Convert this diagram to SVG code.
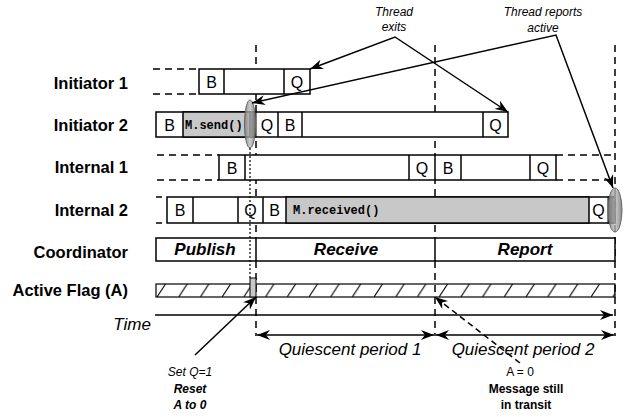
<svg xmlns="http://www.w3.org/2000/svg" width="628" height="417" viewBox="0 0 628 417">
<style>
.box{fill:#fff;stroke:#000;stroke-width:1.5}
.gray{fill:#c8c8c8;stroke:#000;stroke-width:1.5}
.dark{fill:#5a5a5a;stroke:#000;stroke-width:1}
.dash{stroke:#000;stroke-width:1.5;stroke-dasharray:7,5;fill:none}
.dot{stroke:#000;stroke-width:1.2;stroke-dasharray:2,2;fill:none}
.lbl{font-family:"Liberation Sans",Arial,sans-serif;font-weight:bold;font-size:16.5px;text-anchor:end}
.cell{font-family:"Liberation Sans",Arial,sans-serif;font-size:16px;text-anchor:middle}
.code{font-family:"Liberation Mono","Courier New",monospace;font-weight:bold;font-size:12px}
.phase{font-family:"Liberation Sans",Arial,sans-serif;font-weight:bold;font-style:italic;font-size:17px;text-anchor:middle}
.ann{font-family:"Liberation Sans",Arial,sans-serif;font-size:12px;text-anchor:middle}
.it{font-style:italic}
.bd{font-weight:bold}
.big{font-family:"Liberation Sans",Arial,sans-serif;font-style:italic;font-size:17px}
.conn{stroke:#000;stroke-width:1.5;fill:none}
.ell{fill:url(#eg);stroke:#666;stroke-width:1}
</style>
<defs>
<marker id="ah" markerUnits="userSpaceOnUse" markerWidth="13" markerHeight="10" viewBox="0 0 13 10" refX="13" refY="5" orient="auto-start-reverse">
<path d="M0,0 L13,5 L0,10 L4,5 z" fill="#000"/>
</marker>
<pattern id="hatch" patternUnits="userSpaceOnUse" x="157" y="284" width="21.7" height="13">
<line x1="0" y1="13" x2="8.5" y2="0" stroke="#000" stroke-width="1.1"/>
</pattern>
<linearGradient id="eg" x1="0" y1="0" x2="1" y2="0">
<stop offset="0" stop-color="#777" stop-opacity="0.85"/>
<stop offset="0.5" stop-color="#bbb" stop-opacity="0.75"/>
<stop offset="1" stop-color="#777" stop-opacity="0.85"/>
</linearGradient>
</defs>
<rect width="628" height="417" fill="#fff"/>

<g id="labels">
<text class="lbl" x="128" y="89">Initiator 1</text>
<text class="lbl" x="128" y="131">Initiator 2</text>
<text class="lbl" x="128" y="173">Internal 1</text>
<text class="lbl" x="128" y="216">Internal 2</text>
<text class="lbl" x="128" y="258">Coordinator</text>
<text class="lbl" x="128" y="296">Active Flag (A)</text>
<text class="big" x="151" y="330" text-anchor="end">Time</text>
</g>

<g id="phase-lines">
<line class="dash" x1="256" y1="45" x2="256" y2="336"/>
<line class="dash" x1="435" y1="45" x2="435" y2="336"/>
<line class="dash" x1="615" y1="45" x2="615" y2="336"/>
</g>

<g id="initiator1">
<line class="dash" x1="153" y1="69" x2="199" y2="69"/>
<line class="dash" x1="153" y1="94" x2="199" y2="94"/>
<rect class="box" x="199" y="69" width="111" height="25"/>
<line class="conn" x1="224" y1="69" x2="224" y2="94"/>
<line class="conn" x1="284" y1="69" x2="284" y2="94"/>
<text class="cell" x="211.5" y="87.5">B</text>
<text class="cell" x="297" y="87.5">Q</text>
</g>

<g id="initiator2">
<rect class="box" x="156" y="112" width="352" height="25"/>
<rect class="gray" x="183" y="112" width="67" height="25"/>
<rect class="dark" x="250" y="112" width="6" height="25"/>
<line class="conn" x1="278" y1="112" x2="278" y2="137"/>
<line class="conn" x1="302" y1="112" x2="302" y2="137"/>
<line class="conn" x1="483" y1="112" x2="483" y2="137"/>
<text class="cell" x="169.5" y="130.5">B</text>
<text class="code" x="185" y="129">M.send()</text>
<text class="cell" x="267" y="130.5">Q</text>
<text class="cell" x="290" y="130.5">B</text>
<text class="cell" x="495.5" y="130.5">Q</text>
<ellipse class="ell" cx="250" cy="124" rx="5.5" ry="24"/>
</g>

<g id="internal1">
<line class="dash" x1="157" y1="155" x2="219" y2="155"/>
<line class="dash" x1="157" y1="180" x2="219" y2="180"/>
<rect class="box" x="219" y="155" width="337" height="25"/>
<line class="conn" x1="245" y1="155" x2="245" y2="180"/>
<line class="conn" x1="409" y1="155" x2="409" y2="180"/>
<line class="conn" x1="435" y1="155" x2="435" y2="180"/>
<line class="conn" x1="461" y1="155" x2="461" y2="180"/>
<line class="conn" x1="530" y1="155" x2="530" y2="180"/>
<line class="dash" x1="556" y1="155" x2="615" y2="155"/>
<line class="dash" x1="556" y1="180" x2="615" y2="180"/>
<text class="cell" x="232" y="173.5">B</text>
<text class="cell" x="422" y="173.5">Q</text>
<text class="cell" x="448" y="173.5">B</text>
<text class="cell" x="543" y="173.5">Q</text>
</g>

<g id="internal2">
<line class="conn" x1="156" y1="197" x2="162" y2="197"/>
<line class="conn" x1="156" y1="223" x2="162" y2="223"/>
<rect class="box" x="167" y="197" width="448" height="26"/>
<line class="conn" x1="193" y1="197" x2="193" y2="223"/>
<line class="conn" x1="238" y1="197" x2="238" y2="223"/>
<line class="conn" x1="263" y1="197" x2="263" y2="223"/>
<rect class="gray" x="286" y="197" width="303" height="26"/>
<rect class="dark" x="608" y="197" width="7" height="26"/>
<text class="cell" x="180" y="216">B</text>
<text class="cell" x="250.5" y="216">Q</text>
<text class="cell" x="274.5" y="216">B</text>
<text class="code" x="293" y="214">M.received()</text>
<text class="cell" x="598.5" y="216">Q</text>
<ellipse class="ell" cx="615" cy="210" rx="7" ry="22"/>
</g>

<g id="coordinator">
<rect class="box" x="156" y="238" width="459" height="23"/>
<line class="conn" x1="256" y1="238" x2="256" y2="261"/>
<line class="conn" x1="435" y1="238" x2="435" y2="261"/>
<text class="phase" x="205" y="255">Publish</text>
<text class="phase" x="346" y="255">Receive</text>
<text class="phase" x="525" y="255">Report</text>
</g>

<g id="active-flag">
<rect x="156" y="284" width="459" height="13" fill="url(#hatch)" stroke="#000" stroke-width="1.2"/>
<rect x="250" y="278" width="6" height="19" fill="#c8c8c8" stroke="#000" stroke-width="1"/>
</g>

<g id="connectors">
<line class="dot" x1="250" y1="148" x2="250" y2="278"/>
<line class="conn" x1="155" y1="315" x2="613" y2="315" marker-end="url(#ah)"/>
<line class="conn" x1="257" y1="335" x2="434" y2="335" marker-start="url(#ah)" marker-end="url(#ah)"/>
<line class="conn" x1="436" y1="335" x2="614" y2="335" marker-start="url(#ah)" marker-end="url(#ah)"/>
<polyline class="conn" points="310,69 395,37 508,112" marker-start="url(#ah)" marker-end="url(#ah)"/>
<polyline class="conn" points="252,103 556,35 613,188" marker-start="url(#ah)" marker-end="url(#ah)"/>
<line class="conn" x1="195" y1="355" x2="256" y2="297" marker-end="url(#ah)"/>
<line class="conn" x1="520" y1="363" x2="435" y2="297" stroke-dasharray="6,4" marker-end="url(#ah)"/>
</g>

<g id="annotations">
<text class="ann it" x="394" y="16">Thread</text>
<text class="ann it" x="394" y="31">exits</text>
<text class="ann it" x="543" y="16">Thread reports</text>
<text class="ann it" x="543" y="32">active</text>
<text class="big" x="350" y="355" text-anchor="middle">Quiescent period 1</text>
<text class="big" x="523" y="355" text-anchor="middle">Quiescent period 2</text>
<text class="ann it" x="190" y="376">Set Q=1</text>
<text class="ann it bd" x="190" y="393">Reset</text>
<text class="ann it bd" x="190" y="409">A to 0</text>
<text class="ann" x="520" y="376">A = 0</text>
<text class="ann bd" x="526" y="393">Message still</text>
<text class="ann bd" x="526" y="409">in transit</text>
</g>
</svg>
